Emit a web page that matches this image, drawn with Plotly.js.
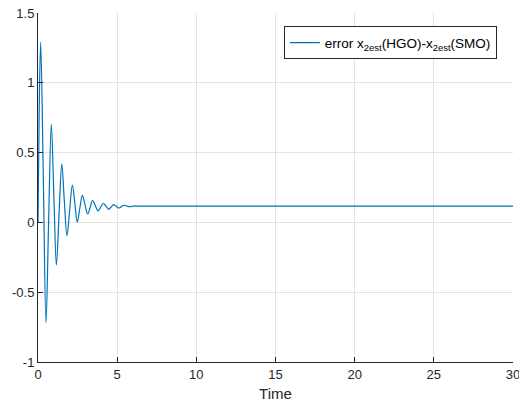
<!DOCTYPE html>
<html>
<head>
<meta charset="utf-8">
<script src="https://cdn.plot.ly/plotly-3.0.1.min.js"></script>
<style>html,body{margin:0;padding:0;background:#fff;}#chart{width:519px;height:402px;}</style>
</head>
<body>
<div id="chart"></div>
<script>
const timeVals = [0, 0.08, 0.17, 0.34, 0.505, 0.67, 0.84, 1.0, 1.16, 1.33, 1.5, 1.66, 1.83, 2.0, 2.17, 2.33, 2.48, 2.64, 2.8, 2.97, 3.14, 3.3, 3.45, 3.62, 3.79, 3.96, 4.13, 4.3, 4.46, 4.62, 4.78, 4.94, 5.1, 5.27, 5.45, 5.62, 5.78, 6.1, 6.5, 7, 30];
const errorVals = [0, 0.85, 1.29, 0.29, -0.72, 0.0, 0.705, 0.2, -0.306, 0.06, 0.417, 0.16, -0.096, 0.09, 0.267, 0.135, 0.002, 0.1, 0.193, 0.125, 0.06, 0.11, 0.157, 0.12, 0.082, 0.11, 0.137, 0.115, 0.094, 0.11, 0.128, 0.115, 0.103, 0.113, 0.123, 0.117, 0.112, 0.118, 0.116, 0.117, 0.117];
const xTickVals = [0, 5, 10, 15, 20, 25, 30];
const xTickText = ["0", "5", "10", "15", "20", "25", "30"];
const yTickVals = [-1, -0.5, 0, 0.5, 1, 1.5];
const yTickText = ["-1", "-0.5", "0", "0.5", "1", "1.5"];
const seriesName = "error x<sub>2est</sub>(HGO)-x<sub>2est</sub>(SMO)";

const trace = {
  x: timeVals, y: errorVals, type: 'scatter', mode: 'lines',
  line: {color: '#0072BD', width: 1.2, shape: 'spline', smoothing: 1},
  name: seriesName
};
const axisCommon = {
  showline: true, linecolor: '#262626', linewidth: 1,
  ticks: 'inside', ticklen: 5, tickcolor: '#262626', tickwidth: 1,
  showgrid: true, gridcolor: '#e3e3e3', gridwidth: 1,
  zeroline: false, mirror: false,
  tickfont: {family: 'Liberation Sans, Arial, sans-serif', size: 13, color: '#262626'},
  tickmode: 'array', ticklabeloverflow: 'allow'
};
const layout = {
  width: 519, height: 402,
  margin: {l: 38, r: 6, t: 13, b: 40},
  paper_bgcolor: '#fff', plot_bgcolor: '#fff',
  showlegend: true,
  xaxis: Object.assign({}, axisCommon, {range: [0, 30], tickvals: xTickVals, ticktext: xTickText,
    title: {text: 'Time', font: {family: 'Liberation Sans, Arial, sans-serif', size: 15, color: '#262626'}, standoff: 12}}),
  yaxis: Object.assign({}, axisCommon, {range: [-1, 1.5], tickvals: yTickVals, ticktext: yTickText}),
  legend: {x: 0.966, y: 0.962, xanchor: 'right', yanchor: 'top', bgcolor: '#fff',
    bordercolor: '#262626', borderwidth: 1, itemwidth: 30,
    font: {family: 'Liberation Sans, Arial, sans-serif', size: 13.5, color: '#000'}}
};
Plotly.newPlot('chart', [trace], layout, {displayModeBar: false, staticPlot: true});
</script>
</body>
</html>
